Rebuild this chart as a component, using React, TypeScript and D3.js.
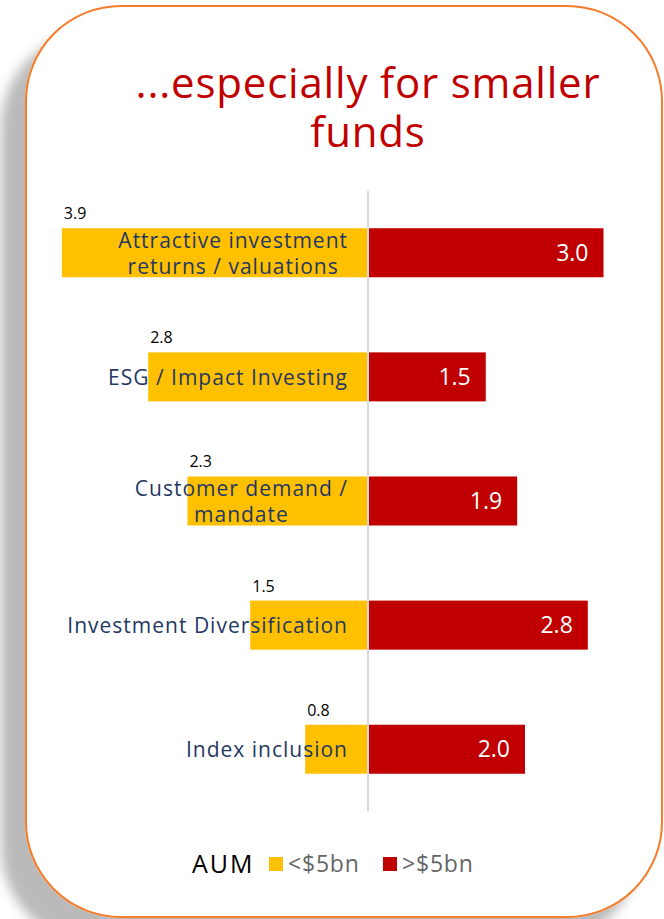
import React from "react";
import * as d3 from "d3";

// survey scores by fund size
const categories = [
  "Attractive investment\nreturns / valuations",
  "ESG / Impact Investing",
  "Customer demand /\nmandate",
  "Investment Diversification",
  "Index inclusion",
];
const smallFunds = [3.9, 2.8, 2.3, 1.5, 0.8];
const largeFunds = [3.0, 1.5, 1.9, 2.8, 2.0];
const seriesNames = ["<$5bn", ">$5bn"];
const titleLines = ["...especially for smaller", "funds"];

const W = 664;
const H = 919;
const FONT = "'Open Sans', 'DejaVu Sans', sans-serif";
const YELLOW = "#ffc000";
const RED = "#c00000";
const NAVY = "#1f3864";

const LABEL_SIZE = 21;
const LABEL_SPACING = 1;

let ctx: CanvasRenderingContext2D | null = null;
function textWidth(s: string, size: number, spacing: number) {
  if (!ctx) ctx = document.createElement("canvas").getContext("2d");
  if (!ctx) return s.length * size * 0.55;
  ctx.font = `${size}px 'Open Sans'`;
  return ctx.measureText(s).width + spacing * s.length;
}

export default function App() {
  const cx = 368;
  const unit = 78.5;
  const labelRight = 348;

  const xLeft = d3.scaleLinear().domain([0, 4]).range([cx, cx - 4 * unit]);
  const xRight = d3.scaleLinear().domain([0, 4]).range([cx, cx + 4 * unit]);
  const y = d3
    .scaleBand<string>()
    .domain(categories)
    .range([191, 811])
    .paddingInner(0.605)
    .paddingOuter(0.3);

  return (
    <svg
      width={W}
      height={H}
      style={{ position: "absolute", left: 0, top: 0, background: "#fff" }}
    >
      <defs>
        <filter id="shadow" x="-10%" y="-10%" width="120%" height="120%">
          <feGaussianBlur in="SourceAlpha" stdDeviation="6" />
          <feOffset dx="-24" dy="26" result="b" />
          <feFlood floodColor="#000" floodOpacity="0.27" />
          <feComposite in2="b" operator="in" />
          <feMerge>
            <feMergeNode />
            <feMergeNode in="SourceGraphic" />
          </feMerge>
        </filter>
      </defs>

      <rect
        x={26}
        y={6}
        width={636}
        height={911}
        rx={95}
        fill="#fff"
        stroke="#f47b2a"
        strokeWidth={2}
        filter="url(#shadow)"
      />

      <text
        textAnchor="middle"
        fontFamily={FONT}
        fontSize={42}
        letterSpacing={0.8}
        fill={RED}
      >
        {titleLines.map((t, i) => (
          <tspan key={t} x={cx} y={98 + i * 49}>
            {t}
          </tspan>
        ))}
      </text>

      <line x1={cx} x2={cx} y1={191} y2={811} stroke="#d9d9d9" strokeWidth={2} />

      {categories.map((c, i) => {
        const by = y(c)!;
        const bh = y.bandwidth();
        const lines = c.split("\n");
        const multi = lines.length > 1;
        const blockW = d3.max(lines, (l) => textWidth(l, LABEL_SIZE, LABEL_SPACING))!;
        const lx = multi ? labelRight - blockW / 2 : labelRight;
        return (
          <g key={c}>
            <rect
              x={xLeft(smallFunds[i])}
              y={by}
              width={xLeft(0) - xLeft(smallFunds[i]) - 1}
              height={bh}
              fill={YELLOW}
            />
            <rect
              x={xRight(0) + 1}
              y={by}
              width={xRight(largeFunds[i]) - xRight(0) - 1}
              height={bh}
              fill={RED}
            />
            <text
              x={xLeft(smallFunds[i]) + 2}
              y={by - 9}
              fontFamily={FONT}
              fontSize={16}
              fill="#000"
            >
              {smallFunds[i].toFixed(1)}
            </text>
            <text
              x={xRight(largeFunds[i]) - 15}
              y={by + bh / 2 + 8}
              textAnchor="end"
              fontFamily={FONT}
              fontSize={23}
              fill="#fff"
            >
              {largeFunds[i].toFixed(1)}
            </text>
            <text
              textAnchor={multi ? "middle" : "end"}
              fontFamily={FONT}
              fontSize={LABEL_SIZE}
              letterSpacing={LABEL_SPACING}
              fill={NAVY}
            >
              {lines.map((l, j) => (
                <tspan
                  key={l}
                  x={lx}
                  y={by + bh / 2 + 8 + (j - (lines.length - 1) / 2) * 26}
                >
                  {l}
                </tspan>
              ))}
            </text>
          </g>
        );
      })}

      <g fontFamily={FONT}>
        <text x={192} y={873} fontSize={25} letterSpacing={2} fill="#000">
          AUM
        </text>
        {seriesNames.map((s, i) => (
          <g key={s} transform={`translate(${269 + i * 114},0)`}>
            <rect x={0} y={857} width={14} height={14} fill={i === 0 ? YELLOW : RED} />
            <text x={19} y={872} fontSize={23} letterSpacing={0.8} fill="#666">
              {s}
            </text>
          </g>
        ))}
      </g>
    </svg>
  );
}
